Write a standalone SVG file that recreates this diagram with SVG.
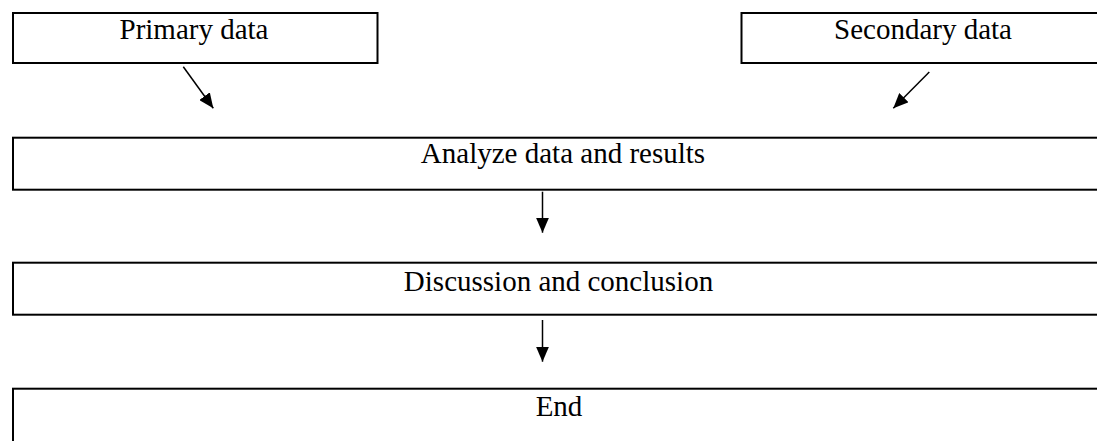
<svg xmlns="http://www.w3.org/2000/svg" width="1097" height="441" viewBox="0 0 1097 441">
<style>
.box{fill:#fff;stroke:#000;stroke-width:2}
.lbl{font-family:"Liberation Serif","Times New Roman",serif;font-size:29px;fill:#000;text-anchor:middle}
.conn{stroke:#000;stroke-width:1.5;fill:none}
</style>
<defs>
<marker id="ah" markerUnits="userSpaceOnUse" viewBox="0 0 15 13" refX="15" refY="6.5" markerWidth="15" markerHeight="13" orient="auto">
<path d="M0,0 L15,6.5 L0,13 Z" fill="#000"/>
</marker>
</defs>
<rect width="1097" height="441" fill="#fff"/>
<g id="primary">
<rect class="box" x="13" y="13" width="364.5" height="50"/>
<text class="lbl" x="194" y="39.3">Primary data</text>
</g>
<g id="secondary">
<rect class="box" x="741.5" y="13" width="420" height="50"/>
<text class="lbl" x="923" y="39.3">Secondary data</text>
</g>
<g id="analyze">
<rect class="box" x="13" y="137.7" width="1120" height="52"/>
<text class="lbl" x="563" y="163.3">Analyze data and results</text>
</g>
<g id="discussion">
<rect class="box" x="13" y="262.7" width="1120" height="52"/>
<text class="lbl" x="558.5" y="290.5">Discussion and conclusion</text>
</g>
<g id="end">
<rect class="box" x="13" y="388.7" width="1120" height="80"/>
<text class="lbl" x="559" y="416">End</text>
</g>
<g id="connectors">
<line class="conn" x1="183.3" y1="66.7" x2="213.3" y2="108.3" marker-end="url(#ah)"/>
<line class="conn" x1="929.3" y1="72" x2="893.3" y2="108.3" marker-end="url(#ah)"/>
<line class="conn" x1="542.5" y1="191.7" x2="542.5" y2="232.7" marker-end="url(#ah)"/>
<line class="conn" x1="542.5" y1="320" x2="542.5" y2="361.7" marker-end="url(#ah)"/>
</g>
</svg>
